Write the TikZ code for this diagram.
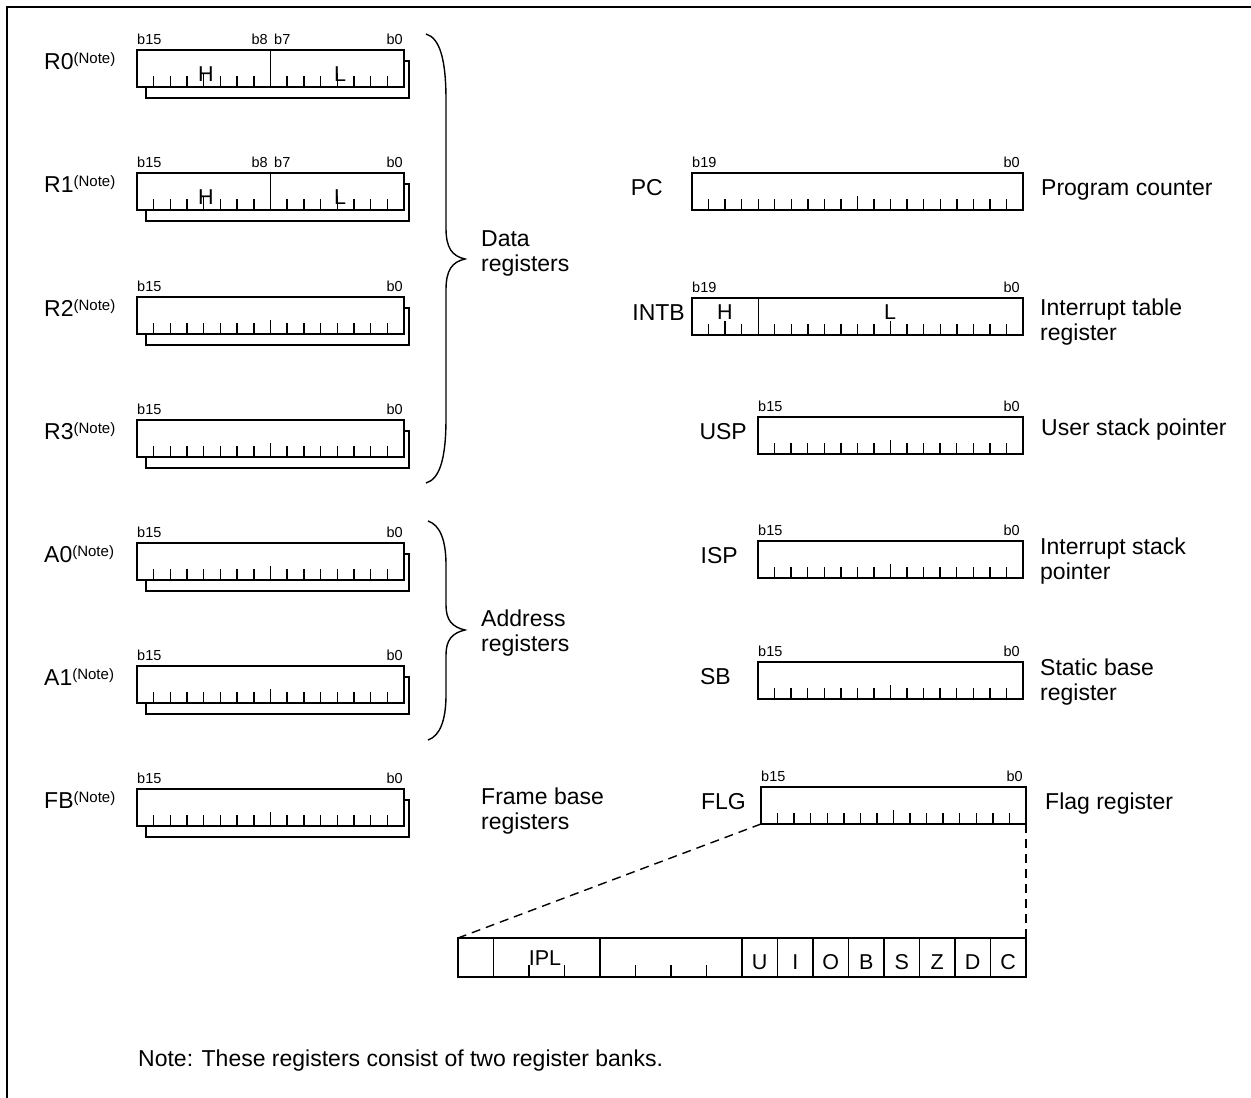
\documentclass[tikz,border=0pt]{standalone}
\usepackage{fontspec}
\setmainfont{Liberation Sans}
\usetikzlibrary{calc}
\tikzset{
  ln/.style={line width=1.4pt},
  regbox/.style={draw, line width=1.4pt, anchor=north west, inner sep=0pt, outer sep=0pt, minimum height=37pt},
  big/.style={font=\fontsize{23}{25}\selectfont, inner sep=0pt},
  letr/.style={font=\fontsize{21.5}{23}\selectfont, inner sep=0pt, anchor=base},
  bit/.style={font=\fontsize{14.5}{16}\selectfont, inner sep=0pt},
  desc/.style={big, anchor=west, align=left},
  bracestyle/.style={line width=1.4pt},
}
\newcommand\notesup{\raisebox{6pt}{\fontsize{15}{16}\selectfont(Note)}}
% ticks: #1 node name, #2 nbits, #3 tall list
\newcommand\regticks[3]{%
  \pgfmathtruncatemacro\nlast{#2-1}%
  \foreach \k in {1,...,\nlast}{%
    \draw[ln] ($(#1.south west)!\k/#2!(#1.south east)$) -- ++(0,-11);
  }%
  \foreach \k in {#3}{%
    \draw[ln] ($(#1.south west)!\k/#2!(#1.south east)$) -- ++(0,-14);
  }%
}
% left register: #1 name, #2 top, #3 label, #4 tall list
\newcommand\lreg[4]{%
  \draw[ln] (146,#2+37) -- (146,#2+48) -- (409,#2+48) -- (409,#2+11) -- (404,#2+11);
  \node[regbox, fill=white, minimum width=267pt] (#1) at (137,#2) {};
  \regticks{#1}{16}{#4}
  \node[big, anchor=base west] (#1-lab) at (44,#2+19) {#3\notesup};
  \node[bit, anchor=base west] (#1-hi) at (137,#2-6) {b15};
  \node[bit, anchor=base east] (#1-lo) at (403,#2-6) {b0};
}
% right register: #1 name, #2 left, #3 right, #4 top, #5 nbits, #6 tall, #7 label, #8 label right x, #9 high bit
\newcommand\rreg[9]{%
  \pgfmathsetmacro\rw{#3-#2}%
  \node[regbox, minimum width=\rw pt] (#1) at (#2,#4) {};
  \regticks{#1}{#5}{#6}
  \node[big, anchor=east] (#1-lab) at (#8,#4+15) {#7};
  \node[bit, anchor=base west] (#1-hi) at (#2,#4-6) {#9};
  \node[bit, anchor=base east] (#1-lo) at (#3-3,#4-6) {b0};
}
\begin{document}
\begin{tikzpicture}[x=1pt, y=-1pt]
\useasboundingbox (0,0) rectangle (1251,1098);
% frame
\draw[line width=2.5pt] (7,1098) -- (7,7) -- (1251,7);

% left registers
\lreg{r0}{50}{R0}{4,12}
\lreg{r1}{173}{R1}{4,12}
\lreg{r2}{297}{R2}{8}
\lreg{r3}{420}{R3}{8}
\lreg{a0}{543}{A0}{8}
\lreg{a1}{666}{A1}{8}
\lreg{fb}{789}{FB}{8}

% H/L split on R0, R1
\foreach \r/\t in {r0/50, r1/173}{
  \draw[ln] (\r.north) -- (\r.south);
  \node[letr] (\r-h) at (206,\t+31) {H};
  \node[letr] (\r-l) at (340,\t+31) {L};
  \node[bit, anchor=base east] (\r-b8) at (268,\t-6) {b8};
  \node[bit, anchor=base west] (\r-b7) at (274,\t-6) {b7};
}

% braces
\draw[bracestyle] (426,34) .. controls (440,38) and (446,60) .. (446,100)
  -- (446,228) .. controls (446,248) and (452,256) .. (465,259)
  .. controls (452,262) and (446,270) .. (446,290)
  -- (446,418) .. controls (446,458) and (440,479) .. (426,483);
\draw[bracestyle] (428,521) .. controls (440,525) and (446,540) .. (446,565)
  -- (446,605) .. controls (446,620) and (452,627) .. (465,630)
  .. controls (452,633) and (446,640) .. (446,655)
  -- (446,695) .. controls (446,720) and (440,736) .. (428,740);

\node[desc] (datalab) at (481,253) {Data\\registers};
\node[desc] (addrlab) at (481,633) {Address\\registers};
\node[desc] (fblab) at (481,811) {Frame base\\registers};

% right registers
\rreg{pc}{692}{1023}{173}{20}{10}{PC}{663}{b19}
\rreg{intb}{692}{1023}{298}{20}{2,12}{INTB}{685}{b19}
\rreg{usp}{758}{1023}{417}{16}{8}{USP}{747}{b15}
\rreg{isp}{758}{1023}{541}{16}{8}{ISP}{738}{b15}
\rreg{sb}{758}{1023}{662}{16}{8}{SB}{731}{b15}
\rreg{flg}{761}{1026}{787}{16}{8}{FLG}{746}{b15}

\draw[ln] ($(intb.north west)!0.2!(intb.north east)$) -- ($(intb.south west)!0.2!(intb.south east)$);
\node[letr] (intb-h) at (725,319) {H};
\node[letr] (intb-l) at (890,319) {L};

\node[desc] (pcdesc) at (1041,190) {Program counter};
\node[desc] (intbdesc) at (1040,322) {Interrupt table\\register};
\node[desc] (uspdesc) at (1041,430) {User stack pointer};
\node[desc] (ispdesc) at (1040,561) {Interrupt stack\\pointer};
\node[desc] (sbdesc) at (1040,682) {Static base\\register};
\node[desc] (flgdesc) at (1045,804) {Flag register};

% expanded flag register
\node[regbox, minimum width=568pt, minimum height=39pt] (xflg) at (458,938) {};
\foreach \k in {1,4,8,9,10,11,12,13,14,15}{
  \draw[ln] ($(xflg.north west)!\k/16!(xflg.north east)$) -- ($(xflg.south west)!\k/16!(xflg.south east)$);
}
\foreach \k in {2,3,5,6,7}{
  \draw[ln] ($(xflg.south west)!\k/16!(xflg.south east)$) -- ++(0,-12);
}
\node[letr] (ipl) at (545,965) {IPL};
\foreach \k/\c in {8/U,9/I,10/O,11/B,12/S,13/Z,14/D,15/C}{
  \node[letr] (fl-\c) at ($(xflg.south west)!{(\k+0.5)/16}!(xflg.south east) + (0,-8)$) {\c};
}
\draw[ln, dash pattern=on 9pt off 6pt] (flg.south west) -- (xflg.north west);
\draw[ln, dash pattern=on 9pt off 6pt] (flg.south east) -- (xflg.north east);

\node[big, anchor=west] (note) at (138,1061) {Note: These registers consist of two register banks.};
\end{tikzpicture}
\end{document}
